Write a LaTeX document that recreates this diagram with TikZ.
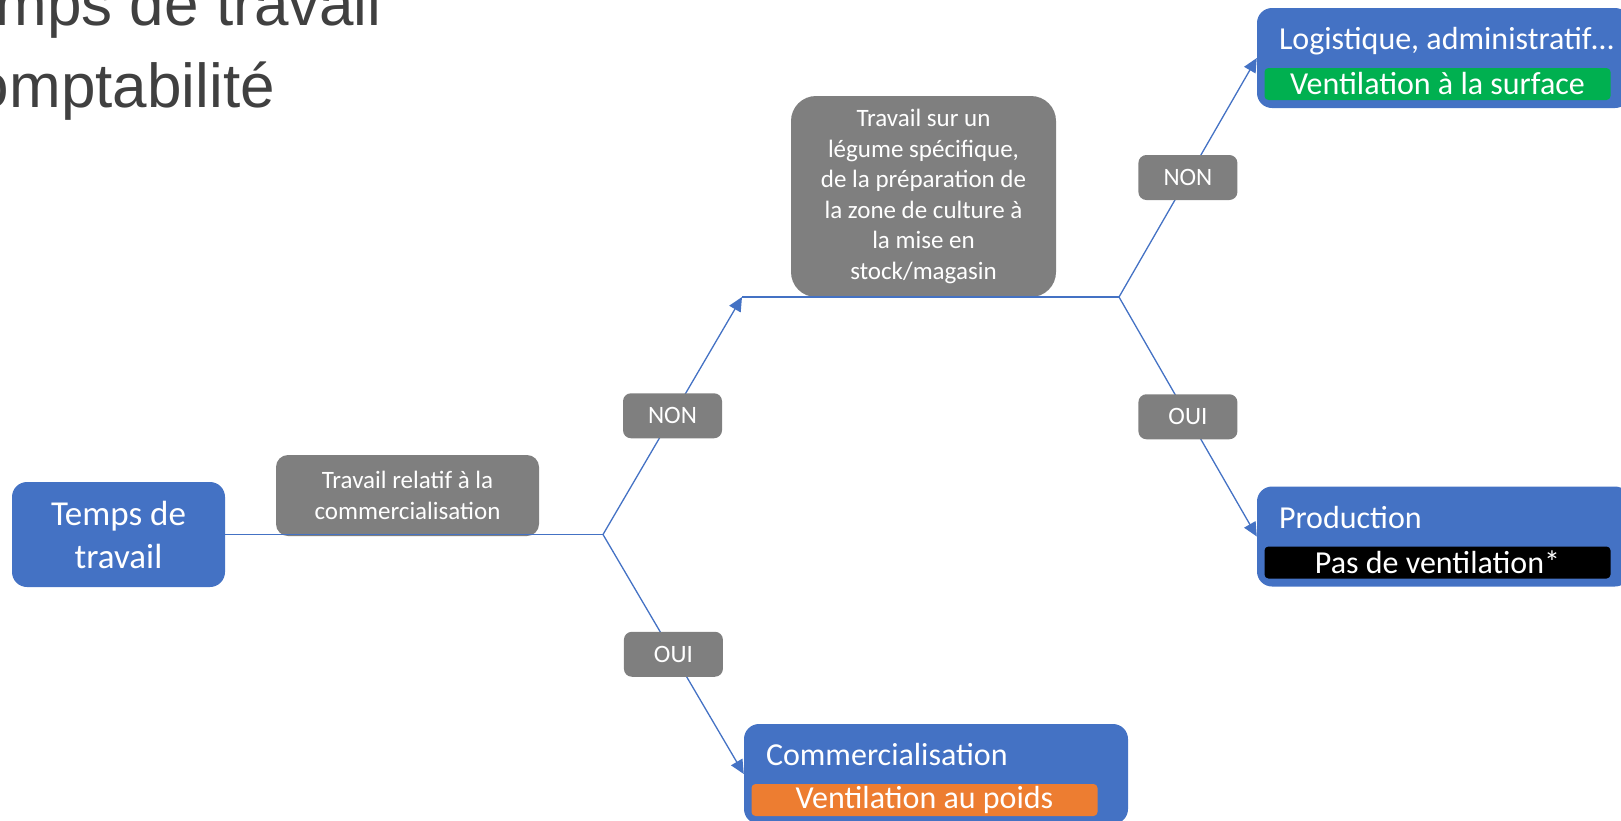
\documentclass[tikz,border=0pt]{standalone}
\usepackage{fontspec}
\setmainfont{Carlito}
\newfontfamily\headfont{Liberation Sans}
\usetikzlibrary{arrows.meta}

\definecolor{officeblue}{HTML}{4472C4}
\definecolor{boxgray}{HTML}{7F7F7F}
\definecolor{ventgreen}{HTML}{00B050}
\definecolor{ventorange}{HTML}{ED7D31}
\definecolor{headgray}{HTML}{404040}

\tikzset{
  heading/.style={font=\headfont\fontsize{62}{74}\selectfont, text=headgray, inner sep=0pt},
  startbox/.style={fill=officeblue, text=white, rounded corners=15pt, align=center,
    minimum width=213pt, minimum height=105pt, font=\fontsize{35}{43}\selectfont},
  question/.style={fill=boxgray, text=white, align=center, inner sep=0pt,
    font=\fontsize{25}{30.5}\selectfont},
  answer/.style={fill=boxgray, text=white, rounded corners=8pt, inner sep=0pt,
    minimum width=99pt, minimum height=45pt, font=\fontsize{25}{30}\selectfont},
  outcome/.style={fill=officeblue, rounded corners=15pt, minimum height=100pt},
  outcometext/.style={text=white, inner sep=0pt, font=\fontsize{32}{38}\selectfont},
  verdict/.style={text=white, rounded corners=4pt, inner sep=0pt,
    minimum width=346pt, minimum height=32pt, font=\fontsize{32}{38}\selectfont},
  wire/.style={draw=officeblue, line width=1.3pt},
  link/.style={wire, -{Triangle[length=14pt,width=13pt]}}
}

\begin{document}
\begin{tikzpicture}[x=1pt, y=-1pt]
    \useasboundingbox (0,0) rectangle (1621,820);
    \clip (0,0) rectangle (1621,820);

    % slide title, cut by the left edge
    \node[heading, anchor=base west] (head1) at (-70,25) {Temps de travail};
    \node[heading, anchor=base west] (head2) at (-70,107) {Comptabilité};

    \node[startbox] (temps) at (118.5,534.5) {Temps de\\travail};
    \node[question, rounded corners=12pt, minimum width=263pt, minimum height=81pt]
        (qcom) at (407.5,495.5) {Travail relatif à la\\commercialisation};
    \node[question, rounded corners=25pt, minimum width=265pt, minimum height=201pt]
        (qveg) at (923.5,196.5) {Travail sur un\\légume spécifique,\\de la préparation de\\la zone de culture à\\la mise en\\stock/magasin};

    % the three end boxes: name/x/y/width/title/bar colour/bar text
    \foreach \nm/\cx/\cy/\w/\ttl/\col/\txt in {
        logi/1443.5/58/373/{Logistique, administratif…}/ventgreen/{Ventilation à la surface},
        prod/1443.5/536.5/373/Production/black/{Pas de ventilation*},
        com/936/774/384/Commercialisation/ventorange/{Ventilation au poids}}{
        \node[outcome, minimum width=\w pt] (\nm) at (\cx,\cy) {};
        \node[outcometext, anchor=base west] (\nm-title)
            at ([xshift=22pt, yshift=-42pt]\nm.north west) {\ttl};
        \node[verdict, fill=\col, anchor=north west] (\nm-bar)
            at ([xshift=7.5pt, yshift=-60pt]\nm.north west) {\txt};
    }

    % branching points
    \coordinate (b1) at (603,534.5);
    \coordinate (t0) at (742,297);
    \coordinate (b2) at (1119,297);

    \draw[wire] (temps.east) -- (b1);
    \draw[link] (b1) -- node[answer] (non1) {NON} (t0);
    \draw[link] (b1) -- node[answer] (oui1) {OUI} (com.west);
    \draw[wire] (t0) -- (b2);
    \draw[link] (b2) -- node[answer] (non2) {NON} (logi.west);
    \draw[link] (b2) -- node[answer] (oui2) {OUI} (prod.west);
\end{tikzpicture}
\end{document}
